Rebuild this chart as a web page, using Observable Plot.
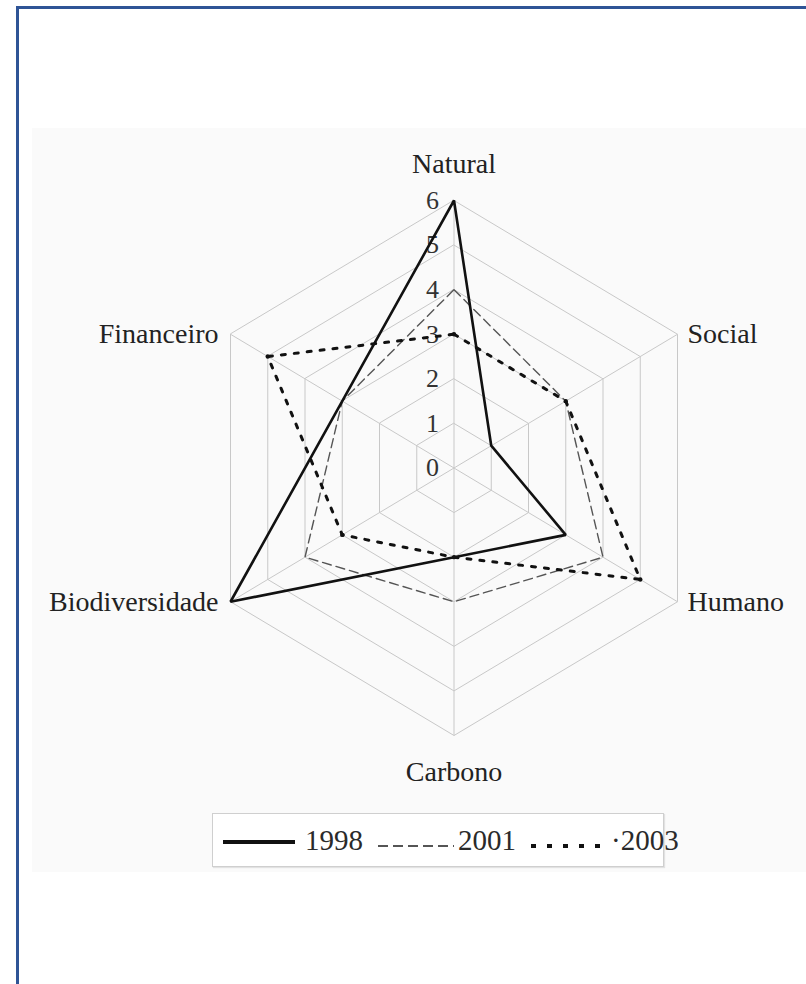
<!DOCTYPE html>
<html>
<head>
<meta charset="utf-8">
<script src="https://cdn.jsdelivr.net/npm/d3@7"></script>
<script src="https://cdn.jsdelivr.net/npm/@observablehq/plot@0.6"></script>
<style>
  html, body { margin: 0; padding: 0; background: #fff; }
  #page { position: relative; width: 806px; height: 984px; overflow: hidden; font-family: 'Liberation Serif', 'Times New Roman', serif; }
  #frame { position: absolute; left: 16px; top: 6px; width: 800px; height: 990px; border-left: 3px solid #2f5496; border-top: 3px solid #2f5496; box-sizing: border-box; }
  #panel { position: absolute; left: 32px; top: 128px; width: 780px; height: 744px; background: #fafafa; }
  #chart { position: absolute; left: 0; top: 0; }
  #legend { position: absolute; left: 212px; top: 813px; width: 452px; height: 54px; box-sizing: border-box; border: 1px solid #cfcfcf; background: #fff; box-shadow: 1px 1px 1px #e2e2e2; }
  .lg-text { position: absolute; font-size: 29px; color: #2a2a2a; line-height: 54px; top: -1px; }
</style>
</head>
<body>
<div id="page">
  <div id="frame"></div>
  <div id="panel"></div>
  <div id="chart"></div>
  <div id="legend"></div>
</div>
<script>
// ---- data ----
const axes = ["Natural", "Social", "Humano", "Carbono", "Biodiversidade", "Financeiro"];
const years = ["1998", "2001", "2003"];
const v1998 = [6, 1, 3, 2, 6, 3];
const v2001 = [4, 3, 4, 3, 4, 3];
const v2003 = [3, 3, 5, 2, 3, 5];
const ticks = [0, 1, 2, 3, 4, 5, 6];
const maxR = 6;

// ---- geometry helpers ----
const s60 = Math.sin(Math.PI / 3);
const pt = (i, r) => ({ x: r * Math.sin(i * Math.PI / 3), y: r * Math.cos(i * Math.PI / 3) });

const grid = [];
for (let level = 1; level <= maxR; level++) {
  axes.forEach((a, i) => grid.push({ level, ...pt(i, level) }));
}
const spokes = axes.map((a, i) => ({ axis: a, i, ...pt(i, maxR) }));
const seriesValues = { "1998": v1998, "2001": v2001, "2003": v2003 };
const rows = y => axes.map((a, i) => ({ year: y, axis: a, value: seriesValues[y][i], ...pt(i, seriesValues[y][i]) }));

const styles = {
  "1998": { stroke: "#111", strokeWidth: 2.6, strokeDasharray: null },
  "2001": { stroke: "#555", strokeWidth: 1.4, strokeDasharray: "9,5" },
  "2003": { stroke: "#111", strokeWidth: 3, strokeDasharray: "4,9" }
};

const labelFont = 28;
const chart = Plot.plot({
  width: 806,
  height: 984,
  margin: 0,
  style: { fontFamily: "'Liberation Serif', 'Times New Roman', serif", background: "transparent" },
  x: { domain: [-maxR * s60, maxR * s60], range: [230, 677], axis: null },
  y: { domain: [-maxR, maxR], range: [735, 200], axis: null },
  marks: [
    Plot.line(grid, { x: "x", y: "y", z: "level", curve: "linear-closed", stroke: "#c8c8c8", strokeWidth: 1 }),
    Plot.link(spokes, { x1: () => 0, y1: () => 0, x2: "x", y2: "y", stroke: "#c8c8c8", strokeWidth: 1 }),
    Plot.text(ticks, { x: () => 0, y: d => d, text: d => String(d), textAnchor: "end", dx: -15, fontSize: 26, fill: "#333" }),
    Plot.line(rows("2001"), { x: "x", y: "y", curve: "linear-closed", stroke: styles["2001"].stroke, strokeWidth: styles["2001"].strokeWidth, strokeDasharray: styles["2001"].strokeDasharray }),
    Plot.line(rows("2003"), { x: "x", y: "y", curve: "linear-closed", stroke: styles["2003"].stroke, strokeWidth: styles["2003"].strokeWidth, strokeDasharray: styles["2003"].strokeDasharray }),
    Plot.dot(rows("2003"), { x: "x", y: "y", r: 2.2, fill: "#111" }),
    Plot.line(rows("1998"), { x: "x", y: "y", curve: "linear-closed", stroke: styles["1998"].stroke, strokeWidth: styles["1998"].strokeWidth, strokeLinejoin: "miter" }),
    // axis labels
    Plot.text(spokes.filter(d => d.i === 0), { x: "x", y: "y", text: "axis", dy: -36, fontSize: labelFont, fill: "#222" }),
    Plot.text(spokes.filter(d => d.i === 3), { x: "x", y: "y", text: "axis", dy: 37, fontSize: labelFont, fill: "#222" }),
    Plot.text(spokes.filter(d => d.i === 1 || d.i === 2), { x: "x", y: "y", text: "axis", textAnchor: "start", dx: 10, fontSize: labelFont, fill: "#222" }),
    Plot.text(spokes.filter(d => d.i === 4 || d.i === 5), { x: "x", y: "y", text: "axis", textAnchor: "end", dx: -12, fontSize: labelFont, fill: "#222" })
  ]
});
document.getElementById("chart").appendChild(chart);

// ---- legend ----
const legendLayout = {
  "1998": { sx: 10, sw: 72, sy: 28, tx: 92 },
  "2001": { sx: 165, sw: 76, sy: 32, tx: 245 },
  "2003": { sx: 318, sw: 76, sy: 32, tx: 398 }
};
const legend = document.getElementById("legend");
const ns = "http://www.w3.org/2000/svg";
years.forEach(y => {
  const L = legendLayout[y], S = styles[y];
  const svg = document.createElementNS(ns, "svg");
  svg.setAttribute("width", L.sw);
  svg.setAttribute("height", 54);
  svg.style.position = "absolute";
  svg.style.left = L.sx + "px";
  svg.style.top = "0px";
  const ln = document.createElementNS(ns, "line");
  ln.setAttribute("x1", 0); ln.setAttribute("x2", L.sw);
  ln.setAttribute("y1", L.sy); ln.setAttribute("y2", L.sy);
  ln.setAttribute("stroke", S.stroke);
  ln.setAttribute("stroke-width", y === "2001" ? 2 : 4);
  if (S.strokeDasharray) ln.setAttribute("stroke-dasharray", y === "2001" ? "10,5" : "5,11");
  svg.appendChild(ln);
  legend.appendChild(svg);
  const t = document.createElement("div");
  t.className = "lg-text";
  t.style.left = L.tx + "px";
  t.textContent = (y === "2003" ? "\u00B7" : "") + y;
  legend.appendChild(t);
});
</script>
</body>
</html>
